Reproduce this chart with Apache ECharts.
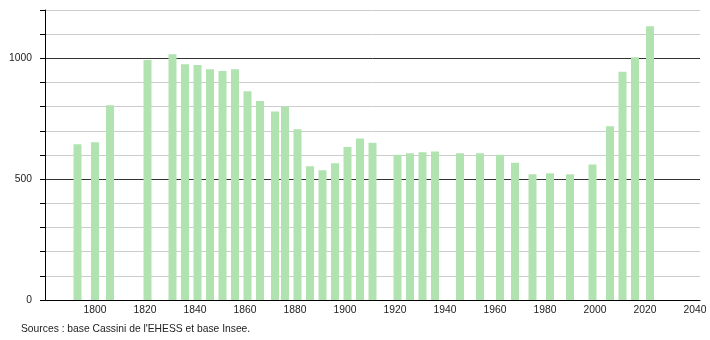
<!DOCTYPE html>
<html>
<head>
<meta charset="utf-8">
<script src="https://cdn.jsdelivr.net/npm/echarts@6/dist/echarts.min.js"></script>
<style>
html,body{margin:0;padding:0;background:#fff;}
#c{width:710px;height:340px;}
</style>
</head>
<body>
<div id="c"></div>
<script>
var years = [1793,1800,1806,1821,1831,1836,1841,1846,1851,1856,1861,1866,1872,1876,1881,1886,1891,1896,1901,1906,1911,1921,1926,1931,1936,1946,1954,1962,1968,1975,1982,1990,1999,2006,2011,2016,2022];
var population = [644,653,806,993,1017,976,972,955,948,955,864,823,780,801,707,553,537,566,633,668,651,601,607,611,614,607,607,601,568,520,524,520,561,719,944,1004,1133];
var xTickLabels = [1800,1820,1840,1860,1880,1900,1920,1940,1960,1980,2000,2020,2040];
var yTickLabels = [0,500,1000];
var sourceText = "Sources : base Cassini de l'EHESS et base Insee.";

var data = years.map(function(y,i){return [y,population[i]];});
var gridColors = [];
for (var v = 0; v <= 1200; v += 100) {
  gridColors.push(v % 500 === 0 ? '#333333' : '#cccccc');
}
var font = 'Liberation Sans, Arial, sans-serif';
var fs = 10.3;
var chart = echarts.init(document.getElementById('c'), null, {renderer:'canvas'});
chart.setOption({
  animation:false,
  backgroundColor:'#ffffff',
  grid:{left:45,right:10,top:10,bottom:40},
  xAxis:{
    type:'value', min:1780, max:2042, interval:20,
    axisLine:{show:true,lineStyle:{color:'#000',width:1}},
    axisTick:{show:false},
    splitLine:{show:false},
    axisLabel:{
      color:'#222', fontSize:fs, fontFamily:font, margin:5,
      showMinLabel:true, showMaxLabel:true,
      formatter:function(v){return xTickLabels.indexOf(v)>=0 ? String(v) : '';}
    }
  },
  yAxis:{
    type:'value', min:0, max:1200, interval:100,
    axisLine:{show:true,lineStyle:{color:'#000',width:1}},
    axisTick:{show:true,length:5,lineStyle:{color:'#000'}},
    splitLine:{show:true,lineStyle:{color:gridColors,width:1}},
    axisLabel:{
      color:'#222', fontSize:fs, fontFamily:font, margin:13,
      formatter:function(v){return yTickLabels.indexOf(v)>=0 ? String(v) : '';}
    }
  },
  series:[{
    type:'bar',
    data:data,
    barWidth:8,
    itemStyle:{color:'#b1e3b1'},
    z:3
  }],
  graphic:[{
    type:'text', left:21, top:324,
    style:{text:sourceText, fill:'#222', font:fs+'px '+font}
  }]
});
</script>
</body>
</html>
